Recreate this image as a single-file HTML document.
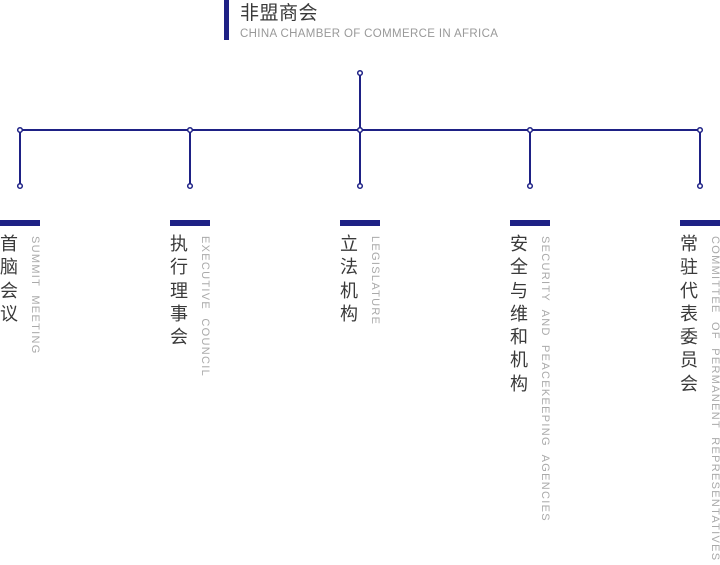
<!DOCTYPE html>
<html><head><meta charset="utf-8"><style>
body{margin:0;width:720px;height:565px;overflow:hidden;background:#fff;position:relative;font-family:"Liberation Sans","Noto Sans CJK SC",sans-serif}
.hb{position:absolute;left:224px;top:0;width:5px;height:40px;background:#1e2185}
.t{position:absolute;left:240px;top:-2px;font-size:19px;color:#3a3a3a;letter-spacing:0.5px}
.s{position:absolute;left:240px;top:28px;font-size:11.5px;color:#999;letter-spacing:0.35px}
.col{position:absolute;top:220px}
.bar{position:absolute;left:0;top:0;width:40px;height:6px;background:#1e2185}
.cn{position:absolute;left:0;top:13px;width:20px;font-size:18px;line-height:23.3px;color:#3a3a3a}
.en{position:absolute;left:29px;top:16px;writing-mode:vertical-rl;font-size:11px;color:#aaa;letter-spacing:1.3px;word-spacing:4px;white-space:nowrap}
</style></head><body>
<div class="hb"></div>
<div class="t">非盟商会</div>
<div class="s">CHINA CHAMBER OF COMMERCE IN AFRICA</div>
<svg width="720" height="200" style="position:absolute;left:0;top:0">
<g stroke="#1e2185" stroke-width="2" fill="none">
<line x1="20" y1="130" x2="700" y2="130"/>
<line x1="360" y1="73" x2="360" y2="186"/>
<line x1="20" y1="130" x2="20" y2="186"/>
<line x1="190" y1="130" x2="190" y2="186"/>
<line x1="530" y1="130" x2="530" y2="186"/>
<line x1="700" y1="130" x2="700" y2="186"/>
</g>
<g stroke="#1e2185" stroke-width="1.5" fill="#fff">
<circle cx="360" cy="73" r="2.3"/>
<circle cx="20" cy="130" r="2.3"/><circle cx="190" cy="130" r="2.3"/><circle cx="360" cy="130" r="2.3"/><circle cx="530" cy="130" r="2.3"/><circle cx="700" cy="130" r="2.3"/>
<circle cx="20" cy="186" r="2.3"/><circle cx="190" cy="186" r="2.3"/><circle cx="360" cy="186" r="2.3"/><circle cx="530" cy="186" r="2.3"/><circle cx="700" cy="186" r="2.3"/>
</g></svg>
<div class="col" style="left:0"><div class="bar"></div><div class="cn">首脑会议</div><div class="en">SUMMIT MEETING</div></div>
<div class="col" style="left:170px"><div class="bar"></div><div class="cn">执行理事会</div><div class="en">EXECUTIVE COUNCIL</div></div>
<div class="col" style="left:340px"><div class="bar"></div><div class="cn">立法机构</div><div class="en">LEGISLATURE</div></div>
<div class="col" style="left:510px"><div class="bar"></div><div class="cn">安全与维和机构</div><div class="en">SECURITY AND PEACEKEEPING AGENCIES</div></div>
<div class="col" style="left:680px"><div class="bar"></div><div class="cn">常驻代表委员会</div><div class="en">COMMITTEE OF PERMANENT REPRESENTATIVES</div></div>
</body></html>
